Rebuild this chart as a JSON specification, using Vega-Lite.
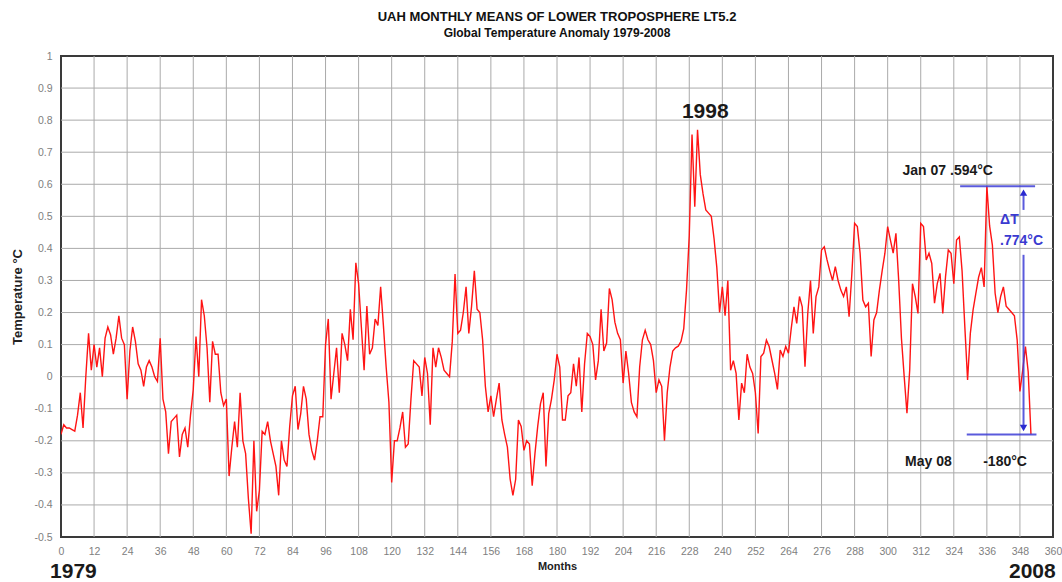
{
"$schema": "https://vega.github.io/schema/vega-lite/v6.json",
"width": 992, "height": 481,
"autosize": {"type": "none"},
"padding": {"left": 61, "top": 56, "right": 9, "bottom": 45},
"background": "white",
"config": {"font": "Liberation Sans", "view": {"stroke": "#3a3a3a", "strokeWidth": 2}},
"title": {"text": "UAH MONTHLY MEANS OF LOWER TROPOSPHERE LT5.2", "subtitle": "Global Temperature Anomaly 1979-2008", "fontSize": 13, "fontWeight": "bold", "color": "#111111", "subtitleFontSize": 12, "subtitleFontWeight": "bold", "subtitleColor": "#111111", "anchor": "middle", "offset": 12, "subtitlePadding": 4},
"datasets": {
"uah": [
{"m":0,"t":-0.18},{"m":1,"t":-0.15},{"m":2,"t":-0.16},{"m":3,"t":-0.16},{"m":4,"t":-0.165},{"m":5,"t":-0.17},{"m":6,"t":-0.12},{"m":7,"t":-0.05},{"m":8,"t":-0.16},{"m":9,"t":0.0},
{"m":10,"t":0.135},{"m":11,"t":0.02},{"m":12,"t":0.10},{"m":13,"t":0.03},{"m":14,"t":0.09},{"m":15,"t":0.0},{"m":16,"t":0.12},{"m":17,"t":0.155},{"m":18,"t":0.13},{"m":19,"t":0.07},
{"m":20,"t":0.12},{"m":21,"t":0.19},{"m":22,"t":0.12},{"m":23,"t":0.10},{"m":24,"t":-0.07},{"m":25,"t":0.08},{"m":26,"t":0.155},{"m":27,"t":0.11},{"m":28,"t":0.04},{"m":29,"t":0.02},
{"m":30,"t":-0.03},{"m":31,"t":0.03},{"m":32,"t":0.05},{"m":33,"t":0.03},{"m":34,"t":0.0},{"m":35,"t":-0.015},{"m":36,"t":0.12},{"m":37,"t":-0.07},{"m":38,"t":-0.11},{"m":39,"t":-0.24},
{"m":40,"t":-0.14},{"m":41,"t":-0.13},{"m":42,"t":-0.12},{"m":43,"t":-0.25},{"m":44,"t":-0.18},{"m":45,"t":-0.16},{"m":46,"t":-0.22},{"m":47,"t":-0.12},{"m":48,"t":-0.04},{"m":49,"t":0.125},
{"m":50,"t":0.0},{"m":51,"t":0.24},{"m":52,"t":0.19},{"m":53,"t":0.09},{"m":54,"t":-0.08},{"m":55,"t":0.11},{"m":56,"t":0.07},{"m":57,"t":0.07},{"m":58,"t":-0.05},{"m":59,"t":-0.09},
{"m":60,"t":-0.07},{"m":61,"t":-0.31},{"m":62,"t":-0.22},{"m":63,"t":-0.14},{"m":64,"t":-0.22},{"m":65,"t":-0.05},{"m":66,"t":-0.20},{"m":67,"t":-0.24},{"m":68,"t":-0.38},{"m":69,"t":-0.49},
{"m":70,"t":-0.20},{"m":71,"t":-0.42},{"m":72,"t":-0.355},{"m":73,"t":-0.17},{"m":74,"t":-0.18},{"m":75,"t":-0.14},{"m":76,"t":-0.20},{"m":77,"t":-0.24},{"m":78,"t":-0.28},{"m":79,"t":-0.37},
{"m":80,"t":-0.20},{"m":81,"t":-0.26},{"m":82,"t":-0.28},{"m":83,"t":-0.155},{"m":84,"t":-0.06},{"m":85,"t":-0.03},{"m":86,"t":-0.165},{"m":87,"t":-0.115},{"m":88,"t":-0.03},{"m":89,"t":-0.07},
{"m":90,"t":-0.18},{"m":91,"t":-0.23},{"m":92,"t":-0.26},{"m":93,"t":-0.20},{"m":94,"t":-0.125},{"m":95,"t":-0.125},{"m":96,"t":0.10},{"m":97,"t":0.18},{"m":98,"t":-0.07},{"m":99,"t":0.01},
{"m":100,"t":0.09},{"m":101,"t":-0.05},{"m":102,"t":0.135},{"m":103,"t":0.10},{"m":104,"t":0.05},{"m":105,"t":0.21},{"m":106,"t":0.115},{"m":107,"t":0.355},{"m":108,"t":0.29},{"m":109,"t":0.155},
{"m":110,"t":0.02},{"m":111,"t":0.22},{"m":112,"t":0.07},{"m":113,"t":0.09},{"m":114,"t":0.18},{"m":115,"t":0.16},{"m":116,"t":0.28},{"m":117,"t":0.16},{"m":118,"t":0.03},{"m":119,"t":-0.08},
{"m":120,"t":-0.33},{"m":121,"t":-0.20},{"m":122,"t":-0.20},{"m":123,"t":-0.16},{"m":124,"t":-0.11},{"m":125,"t":-0.22},{"m":126,"t":-0.21},{"m":127,"t":-0.07},{"m":128,"t":0.05},{"m":129,"t":0.04},
{"m":130,"t":0.03},{"m":131,"t":-0.06},{"m":132,"t":0.06},{"m":133,"t":0.01},{"m":134,"t":-0.15},{"m":135,"t":0.09},{"m":136,"t":0.03},{"m":137,"t":0.09},{"m":138,"t":0.06},{"m":139,"t":0.02},
{"m":140,"t":0.01},{"m":141,"t":0.0},{"m":142,"t":0.11},{"m":143,"t":0.32},{"m":144,"t":0.135},{"m":145,"t":0.145},{"m":146,"t":0.20},{"m":147,"t":0.28},{"m":148,"t":0.135},{"m":149,"t":0.22},
{"m":150,"t":0.33},{"m":151,"t":0.21},{"m":152,"t":0.20},{"m":153,"t":0.115},{"m":154,"t":-0.03},{"m":155,"t":-0.11},{"m":156,"t":-0.06},{"m":157,"t":-0.125},{"m":158,"t":-0.07},{"m":159,"t":-0.02},
{"m":160,"t":-0.135},{"m":161,"t":-0.18},{"m":162,"t":-0.22},{"m":163,"t":-0.32},{"m":164,"t":-0.37},{"m":165,"t":-0.32},{"m":166,"t":-0.135},{"m":167,"t":-0.155},{"m":168,"t":-0.23},{"m":169,"t":-0.20},
{"m":170,"t":-0.21},{"m":171,"t":-0.34},{"m":172,"t":-0.24},{"m":173,"t":-0.155},{"m":174,"t":-0.085},{"m":175,"t":-0.05},{"m":176,"t":-0.28},{"m":177,"t":-0.115},{"m":178,"t":-0.07},{"m":179,"t":-0.01},
{"m":180,"t":0.07},{"m":181,"t":0.03},{"m":182,"t":-0.135},{"m":183,"t":-0.135},{"m":184,"t":-0.06},{"m":185,"t":-0.05},{"m":186,"t":0.04},{"m":187,"t":-0.03},{"m":188,"t":0.06},{"m":189,"t":-0.11},
{"m":190,"t":0.04},{"m":191,"t":0.135},{"m":192,"t":0.125},{"m":193,"t":0.10},{"m":194,"t":-0.01},{"m":195,"t":0.05},{"m":196,"t":0.21},{"m":197,"t":0.08},{"m":198,"t":0.105},{"m":199,"t":0.275},
{"m":200,"t":0.24},{"m":201,"t":0.17},{"m":202,"t":0.135},{"m":203,"t":0.115},{"m":204,"t":-0.02},{"m":205,"t":0.08},{"m":206,"t":0.01},{"m":207,"t":-0.08},{"m":208,"t":-0.11},{"m":209,"t":-0.125},
{"m":210,"t":0.03},{"m":211,"t":0.115},{"m":212,"t":0.145},{"m":213,"t":0.115},{"m":214,"t":0.10},{"m":215,"t":0.05},{"m":216,"t":-0.05},{"m":217,"t":-0.01},{"m":218,"t":-0.03},{"m":219,"t":-0.20},
{"m":220,"t":-0.05},{"m":221,"t":0.03},{"m":222,"t":0.08},{"m":223,"t":0.09},{"m":224,"t":0.095},{"m":225,"t":0.11},{"m":226,"t":0.15},{"m":227,"t":0.27},{"m":228,"t":0.44},{"m":229,"t":0.755},
{"m":230,"t":0.53},{"m":231,"t":0.77},{"m":232,"t":0.63},{"m":233,"t":0.57},{"m":234,"t":0.52},{"m":235,"t":0.51},{"m":236,"t":0.50},{"m":237,"t":0.43},{"m":238,"t":0.34},{"m":239,"t":0.20},
{"m":240,"t":0.28},{"m":241,"t":0.19},{"m":242,"t":0.30},{"m":243,"t":0.02},{"m":244,"t":0.05},{"m":245,"t":0.01},{"m":246,"t":-0.135},{"m":247,"t":-0.02},{"m":248,"t":-0.05},{"m":249,"t":0.07},
{"m":250,"t":0.03},{"m":251,"t":0.01},{"m":252,"t":-0.05},{"m":253,"t":-0.177},{"m":254,"t":0.063},{"m":255,"t":0.073},{"m":256,"t":0.114},{"m":257,"t":0.094},{"m":258,"t":0.052},{"m":259,"t":0.01},
{"m":260,"t":-0.04},{"m":261,"t":0.083},{"m":262,"t":0.063},{"m":263,"t":0.094},{"m":264,"t":0.073},{"m":265,"t":0.15},{"m":266,"t":0.218},{"m":267,"t":0.166},{"m":268,"t":0.25},{"m":269,"t":0.218},
{"m":270,"t":0.031},{"m":271,"t":0.197},{"m":272,"t":0.30},{"m":273,"t":0.135},{"m":274,"t":0.25},{"m":275,"t":0.28},{"m":276,"t":0.395},{"m":277,"t":0.405},{"m":278,"t":0.364},{"m":279,"t":0.33},
{"m":280,"t":0.30},{"m":281,"t":0.343},{"m":282,"t":0.30},{"m":283,"t":0.27},{"m":284,"t":0.25},{"m":285,"t":0.28},{"m":286,"t":0.187},{"m":287,"t":0.32},{"m":288,"t":0.478},{"m":289,"t":0.468},
{"m":290,"t":0.385},{"m":291,"t":0.239},{"m":292,"t":0.218},{"m":293,"t":0.229},{"m":294,"t":0.063},{"m":295,"t":0.177},{"m":296,"t":0.20},{"m":297,"t":0.27},{"m":298,"t":0.33},{"m":299,"t":0.385},
{"m":300,"t":0.468},{"m":301,"t":0.426},{"m":302,"t":0.385},{"m":303,"t":0.447},{"m":304,"t":0.30},{"m":305,"t":0.12},{"m":306,"t":0.0},{"m":307,"t":-0.114},{"m":308,"t":0.021},{"m":309,"t":0.29},
{"m":310,"t":0.25},{"m":311,"t":0.197},{"m":312,"t":0.478},{"m":313,"t":0.468},{"m":314,"t":0.364},{"m":315,"t":0.385},{"m":316,"t":0.353},{"m":317,"t":0.229},{"m":318,"t":0.29},{"m":319,"t":0.322},
{"m":320,"t":0.197},{"m":321,"t":0.312},{"m":322,"t":0.395},{"m":323,"t":0.385},{"m":324,"t":0.29},{"m":325,"t":0.426},{"m":326,"t":0.436},{"m":327,"t":0.33},{"m":328,"t":0.156},{"m":329,"t":-0.01},
{"m":330,"t":0.135},{"m":331,"t":0.208},{"m":332,"t":0.26},{"m":333,"t":0.31},{"m":334,"t":0.34},{"m":335,"t":0.28},{"m":336,"t":0.594},{"m":337,"t":0.47},{"m":338,"t":0.41},{"m":339,"t":0.26},
{"m":340,"t":0.20},{"m":341,"t":0.25},{"m":342,"t":0.28},{"m":343,"t":0.22},{"m":344,"t":0.21},{"m":345,"t":0.20},{"m":346,"t":0.19},{"m":347,"t":0.114},{"m":348,"t":-0.046},{"m":349,"t":0.02},
{"m":350,"t":0.094},{"m":351,"t":0.015},{"m":352,"t":-0.18}
],
"gridX": [{"m":12,"t":-0.5,"t2":1},{"m":24,"t":-0.5,"t2":1},{"m":36,"t":-0.5,"t2":1},{"m":48,"t":-0.5,"t2":1},{"m":60,"t":-0.5,"t2":1},{"m":72,"t":-0.5,"t2":1},{"m":84,"t":-0.5,"t2":1},{"m":96,"t":-0.5,"t2":1},{"m":108,"t":-0.5,"t2":1},{"m":120,"t":-0.5,"t2":1},{"m":132,"t":-0.5,"t2":1},{"m":144,"t":-0.5,"t2":1},{"m":156,"t":-0.5,"t2":1},{"m":168,"t":-0.5,"t2":1},{"m":180,"t":-0.5,"t2":1},{"m":192,"t":-0.5,"t2":1},{"m":204,"t":-0.5,"t2":1},{"m":216,"t":-0.5,"t2":1},{"m":228,"t":-0.5,"t2":1},{"m":240,"t":-0.5,"t2":1},{"m":252,"t":-0.5,"t2":1},{"m":264,"t":-0.5,"t2":1},{"m":276,"t":-0.5,"t2":1},{"m":288,"t":-0.5,"t2":1},{"m":300,"t":-0.5,"t2":1},{"m":312,"t":-0.5,"t2":1},{"m":324,"t":-0.5,"t2":1},{"m":336,"t":-0.5,"t2":1},{"m":348,"t":-0.5,"t2":1}],
"gridY": [{"t":-0.4,"m":0,"m2":360},{"t":-0.3,"m":0,"m2":360},{"t":-0.2,"m":0,"m2":360},{"t":-0.1,"m":0,"m2":360},{"t":0,"m":0,"m2":360},{"t":0.1,"m":0,"m2":360},{"t":0.2,"m":0,"m2":360},{"t":0.3,"m":0,"m2":360},{"t":0.4,"m":0,"m2":360},{"t":0.5,"m":0,"m2":360},{"t":0.6,"m":0,"m2":360},{"t":0.7,"m":0,"m2":360},{"t":0.8,"m":0,"m2":360},{"t":0.9,"m":0,"m2":360}],
"rules": [
{"m":326.3,"t":0.594,"m2":353.5,"t2":0.594},
{"m":328.7,"t":-0.18,"m2":354,"t2":-0.18},
{"m":349.3,"t":0.57,"m2":349.3,"t2":0.52},
{"m":349.3,"t":0.38,"m2":349.3,"t2":-0.16}
],
"arrowUp": [{"m":349.3,"t":0.574}],
"arrowDown": [{"m":349.3,"t":-0.16}],
"bigText": [
{"m":233.8,"t":0.825,"label":"1998"},
{"m":4.5,"t":-0.61,"label":"1979"},
{"m":352.5,"t":-0.61,"label":"2008"}
],
"midText": [
{"m":321.8,"t":0.641,"label":"Jan 07 .594°C"},
{"m":314.8,"t":-0.266,"label":"May 08"},
{"m":342.6,"t":-0.266,"label":"-180°C"}
],
"blueText": [
{"m":340.8,"t":0.489,"label":"ΔT"},
{"m":340.8,"t":0.423,"label":".774°C"}
]
},
"encoding": {
"x": {"field": "m", "type": "quantitative", "scale": {"domain": [0, 360], "nice": false, "zero": false},
 "axis": {"values": [0,12,24,36,48,60,72,84,96,108,120,132,144,156,168,180,192,204,216,228,240,252,264,276,288,300,312,324,336,348,360],
  "title": "Months", "titleFontSize": 11, "titleFontWeight": "bold", "titleColor": "#222222", "titlePadding": 4,
  "labelFontSize": 10.5, "labelColor": "#808080", "labelPadding": 9, "labelFlush": false, "labelOverlap": false,
  "grid": false, "domain": false, "ticks": false}},
"y": {"field": "t", "type": "quantitative", "scale": {"domain": [-0.5, 1], "nice": false, "zero": false},
 "axis": {"values": [-0.5,-0.4,-0.3,-0.2,-0.1,0,0.1,0.2,0.3,0.4,0.5,0.6,0.7,0.8,0.9,1],
  "labelExpr": "replace(format(datum.value, '~g'), '−', '-')",
  "title": "Temperature °C", "titleFontSize": 13, "titleFontWeight": "bold", "titleColor": "#222222", "titlePadding": 9,
  "labelFontSize": 10.5, "labelColor": "#808080", "labelPadding": 9, "labelFlush": false, "labelOverlap": false,
  "grid": false, "domain": false, "ticks": false}}
},
"layer": [
{"data": {"name": "gridX"}, "mark": {"type": "rule", "color": "#aaaaaa", "strokeWidth": 1}, "encoding": {"y2": {"field": "t2"}}},
{"data": {"name": "gridY"}, "mark": {"type": "rule", "color": "#aaaaaa", "strokeWidth": 1}, "encoding": {"x2": {"field": "m2"}}},
{"data": {"name": "uah"}, "mark": {"type": "line", "color": "#ff1414", "strokeWidth": 1.4, "clip": true}},
{"data": {"name": "rules"}, "mark": {"type": "rule", "color": "#3d3dd6", "strokeWidth": 2, "opacity": 0.85},
 "encoding": {"x2": {"field": "m2"}, "y2": {"field": "t2"}}},
{"data": {"name": "arrowUp"}, "mark": {"type": "point", "shape": "triangle-up", "filled": true, "color": "#2a2ad0", "size": 55, "opacity": 1}},
{"data": {"name": "arrowDown"}, "mark": {"type": "point", "shape": "triangle-down", "filled": true, "color": "#2a2ad0", "size": 55, "opacity": 1}},
{"data": {"name": "bigText"}, "mark": {"type": "text", "fontSize": 21, "fontWeight": "bold", "color": "#1a1a1a", "align": "center", "baseline": "middle"},
 "encoding": {"text": {"field": "label"}}},
{"data": {"name": "midText"}, "mark": {"type": "text", "fontSize": 14, "fontWeight": "bold", "color": "#1a1a1a", "align": "center", "baseline": "middle"},
 "encoding": {"text": {"field": "label"}}},
{"data": {"name": "blueText"}, "mark": {"type": "text", "fontSize": 14, "fontWeight": "bold", "color": "#3a3ad0", "align": "left", "baseline": "middle"},
 "encoding": {"text": {"field": "label"}}}
]
}
